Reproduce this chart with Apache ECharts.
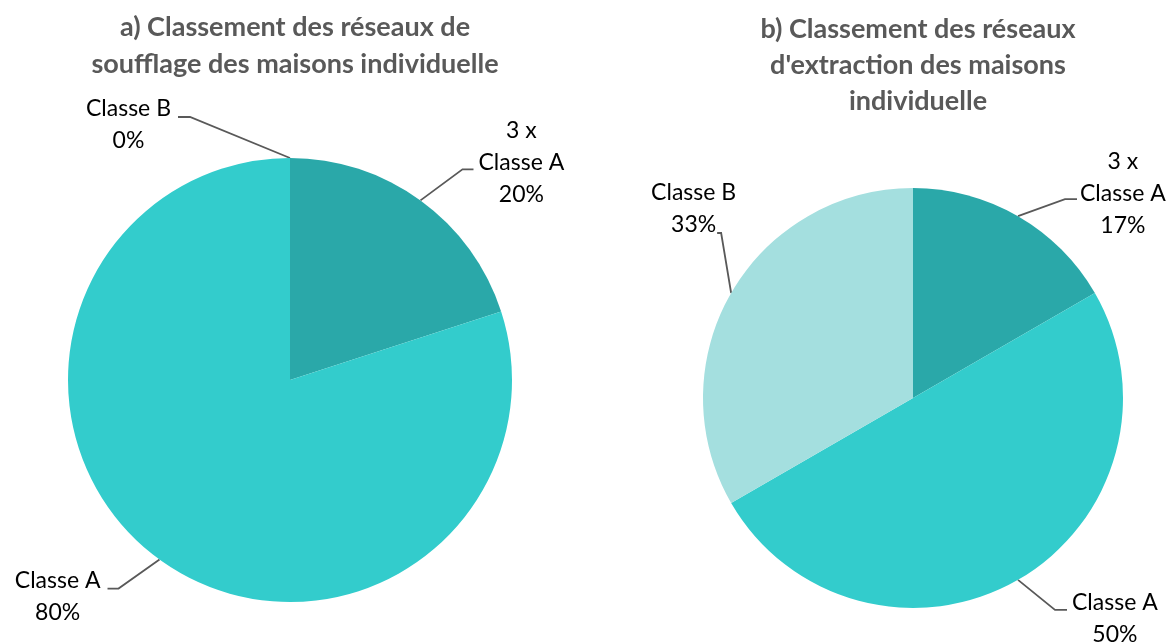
<!DOCTYPE html>
<html>
<head>
    <meta charset="UTF-8">
    <title>Classement des réseaux</title>
    <script type="text/javascript" src="https://cdn.jsdelivr.net/npm/echarts@6/dist/echarts.min.js"></script>
    <style>
        body,html{
            margin: 0;
            padding: 0;
            width: 100%;
            height: 100%;
            background: #fff;
        }
        #chart{
            width: 1174px;
            height: 644px;
        }
    </style>
</head>
<body>
<div id="chart"></div>
<script>
    // catégories (même ordre pour les deux camemberts)
    var categories = ['3 x Classe A', 'Classe A', 'Classe B'];
    // nombre de réseaux par classe
    var soufflageValues = [1, 4, 0];
    var extractionValues = [1, 3, 2];
    var titles = [
        'a) Classement des réseaux de\nsoufflage des maisons individuelle',
        'b) Classement des réseaux\nd\'extraction des maisons\nindividuelle'
    ];
    var colors = ['#2aa8a9', '#33cccc', '#a4dfdf'];

    var font = 'Lato, "Open Sans", sans-serif';

    // placement des étiquettes (façon Excel) : coude relatif au point d'ancrage,
    // segment horizontal, écart au texte, décalage vertical du texte
    var leftLabelPos = [
        {dx: 42, dy: -31, h: 11, gap: 5, ty: -7},
        {dx: -41, dy: 29, h: -11, gap: 7, ty: 8},
        {dx: -100, dy: -41, h: -12, gap: 7, ty: 8}
    ];
    var rightLabelPos = [
        {dx: 47, dy: -17, h: 12, gap: 3, ty: -6},
        {dx: 37, dy: 30, h: 12, gap: 5, ty: 9},
        {dx: -10, dy: -60, h: -4, gap: -19, ty: -24}
    ];

    function buildData(values)
    {
        var data = [];
        for (var i = 0; i < categories.length; i++) {
            data.push({name: categories[i], value: values[i]});
        }
        return data;
    }

    function labelText(p)
    {
        return p.name.replace('3 x ', '3 x\n') + '\n' + p.percent + '%';
    }

    function makeLayout(pos)
    {
        return function(params) {
            var o = pos[params.dataIndex];
            var a = params.labelLinePoints[0];
            var bend = [a[0] + o.dx, a[1] + o.dy];
            var end = [bend[0] + o.h, bend[1]];
            var side = o.h >= 0 ? 1 : -1;
            var w = params.labelRect.width;
            return {
                x: end[0] + side * (o.gap + w / 2),
                y: end[1] + o.ty,
                align: 'center',
                verticalAlign: 'middle',
                labelLinePoints: [a, bend, end]
            };
        };
    }

    function pieSeries(name, values, center, radius, pos)
    {
        return {
            name: name,
            type: 'pie',
            center: center,
            radius: radius,
            startAngle: 90,
            clockwise: true,
            percentPrecision: 0,
            avoidLabelOverlap: false,
            data: buildData(values),
            label: {
                formatter: labelText,
                fontFamily: font, fontSize: 23, color: '#000', lineHeight: 32
            },
            labelLine: {length: 30, length2: 10, lineStyle: {color: '#595959', width: 1.8}},
            labelLayout: makeLayout(pos),
            itemStyle: {borderWidth: 0}
        };
    }

    var chart = echarts.init(document.getElementById('chart'));
    var option = {
        color: colors,
        animation: false,
        title: [
            {
                text: titles[0], left: 290, top: 4, textAlign: 'center',
                textStyle: {fontFamily: font, fontSize: 27, fontWeight: 'bold', color: '#595959', lineHeight: 37}
            },
            {
                text: titles[1], left: 913, top: 6, textAlign: 'center',
                textStyle: {fontFamily: font, fontSize: 27, fontWeight: 'bold', color: '#595959', lineHeight: 36}
            }
        ],
        series: [
            pieSeries('soufflage', soufflageValues, [290, 380], 222, leftLabelPos),
            pieSeries('extraction', extractionValues, [913, 398], 210, rightLabelPos)
        ]
    };
    chart.setOption(option);
</script>
</body>
</html>
